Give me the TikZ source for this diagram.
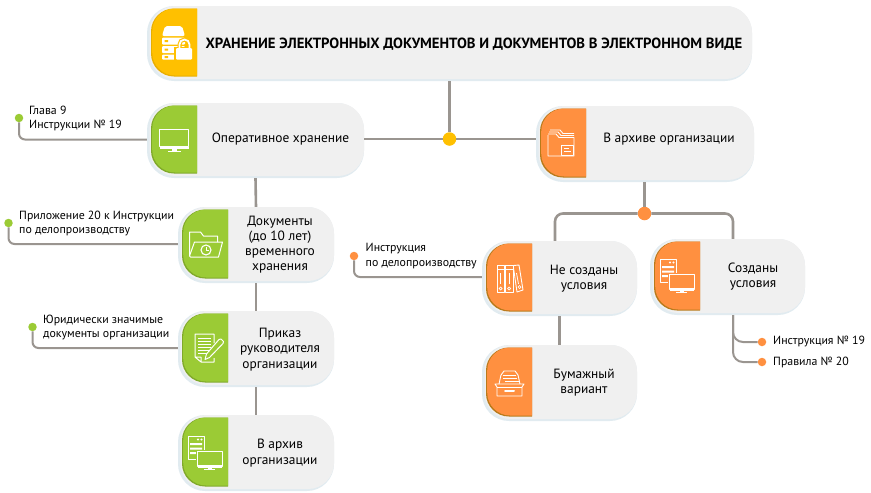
\documentclass[tikz,border=0pt]{standalone}
\usepackage{fontspec}
\setmainfont{PT Sans}
\tikzset{
  x=1pt,y=-1pt,
  cardbase/.style={fill=#1,draw=none,rounded corners=27pt,inner sep=0pt},
  cardtext/.style={font=\fontsize{13.4}{15.2}\selectfont,text=black,align=center,inner sep=0pt},
  toptext/.style={font=\fontsize{14.75}{16}\selectfont\bfseries,text=black,inner sep=0pt},
  notetext/.style={font=\fontsize{11.85}{14.4}\selectfont,text=black,align=left,anchor=west,inner sep=0pt},
  conn/.style={draw=linegray,line width=2.6pt},
  leader/.style={draw=linegray,line width=2pt,rounded corners=6pt},
  dot/.style={circle,fill=#1,draw=none,minimum size=8.5pt,inner sep=0pt},
  junction/.style={circle,fill=#1,draw=none,minimum size=13.5pt,inner sep=0pt},
  icon/.style={draw=white,line width=1pt,fill=none,line join=round},
}
\definecolor{linegray}{HTML}{9A9590}
\definecolor{shade}{HTML}{E1EBF0}
\definecolor{cardgray}{HTML}{F0F0F0}
\definecolor{cyellow}{HTML}{FFC000}
\definecolor{dyellow}{HTML}{E8AE00}
\definecolor{cgreen}{HTML}{9BCB35}
\definecolor{dgreen}{HTML}{7FA92A}
\definecolor{corange}{HTML}{FF9040}
\definecolor{dorange}{HTML}{B87A1A}
% name, x0, y0, x1, y1, color, dark
\newcommand{\card}[7]{%
  \pgfmathsetmacro{\cx}{(#2+#4)/2}\pgfmathsetmacro{\cy}{(#3+#5)/2}%
  \pgfmathsetmacro{\cw}{#4-#2}\pgfmathsetmacro{\ch}{#5-#3}%
  \node[cardbase=shade,minimum width=\cw pt,minimum height=\ch pt] (#1) at (\cx,\cy) {};%
  \pgfmathsetmacro{\gx}{#2+2.5}\pgfmathsetmacro{\gyb}{#5-2}%
  \fill[cardgray,rounded corners=26pt] (\gx,#3) rectangle (#4,\gyb);%
  \pgfmathsetmacro{\pxa}{#2+4}\pgfmathsetmacro{\pxb}{#2+50}%
  \pgfmathsetmacro{\pya}{#3+2.5}\pgfmathsetmacro{\pyb}{#5-4.5}%
  \pgfmathsetmacro{\qxa}{#2+5.2}\pgfmathsetmacro{\qyb}{#5-5.5}%
  \fill[#7] (\pxb,\pya) [rounded corners=23pt] -- (\pxa,\pya) -- (\pxa,\pyb) [sharp corners] -- (\pxb,\pyb) -- cycle;%
  \fill[#6] (\pxb,\pya) [rounded corners=23pt] -- (\qxa,\pya) -- (\qxa,\qyb) [sharp corners] -- (\pxb,\qyb) -- cycle;%
}
\newcommand{\imonitor}[3]{% x,y,scale ; 30x22
  \begin{scope}[shift={(#1,#2)},scale=#3]
    \draw[icon,line width=1.3pt] (0,0) rectangle (29,17);
    \fill[white] (0,17) rectangle (29,19);
    \fill[white] (12,19) rectangle (17,21);
    \fill[white] (8,21) rectangle (21,22.2);
  \end{scope}}
% x, y, panel colour
\newcommand{\iserver}[3]{%
  \begin{scope}[shift={(#1,#2)}]
    \draw[icon,line width=.8pt] (0,0) rectangle (16,23);
    \fill[white] (10,3.5) circle (1.2pt) (13.5,3.5) circle (1.2pt);
    \fill[white] (2,7) rectangle (14,9.2) (2,11.5) rectangle (14,13.7) (2,16) rectangle (14,18.2);
  \end{scope}
  \fill[#3] (#1+8,#2+14) rectangle (#1+35,#2+35);
  \imonitor{#1+9.5}{#2+15.5}{.85}}
\begin{document}
\begin{tikzpicture}
\useasboundingbox (0,0) rectangle (871,493);
% cards
\card{top}{147}{6}{752}{81}{cyellow}{dyellow}
\card{op}{147}{103}{364}{178}{cgreen}{dgreen}
\card{doc}{178}{207}{334}{283}{cgreen}{dgreen}
\card{pri}{178}{311}{334}{387}{cgreen}{dgreen}
\card{arc}{178}{415}{334}{491}{cgreen}{dgreen}
\card{var}{536}{106}{754}{182}{corange}{dorange}
\card{ne}{482}{241}{637}{316}{corange}{dorange}
\card{soz}{650}{239}{805}{315}{corange}{dorange}
\card{bum}{482}{345}{637}{421}{corange}{dorange}
% texts
\node[toptext] (t-top) at (474,44) {ХРАНЕНИЕ ЭЛЕКТРОННЫХ ДОКУМЕНТОВ И ДОКУМЕНТОВ В ЭЛЕКТРОННОМ ВИДЕ};
\node[cardtext] (t-op) at (280.5,139.5) {Оперативное хранение};
\node[cardtext] (t-doc) at (280,244.5) {Документы\\(до 10 лет)\\временного\\хранения};
\node[cardtext] (t-pri) at (280,349.5) {Приказ\\руководителя\\организации};
\node[cardtext] (t-arc) at (280,453) {В архив\\организации};
\node[cardtext] (t-var) at (669,139.5) {В архиве организации};
\node[cardtext] (t-ne) at (584,278.5) {Не созданы\\условия};
\node[cardtext] (t-soz) at (753,276.5) {Созданы\\условия};
\node[cardtext] (t-bum) at (584,383) {Бумажный\\вариант};
% notes
\node[notetext] (n-op) at (29,118.5) {Глава 9\\Инструкции № 19};
\node[notetext] (n-doc) at (19,223.5) {Приложение 20 к Инструкции\\по делопроизводству};
\node[notetext] (n-pri) at (43,327.5) {Юридически значимые\\документы организации};
\node[notetext] (n-ne) at (365.5,256) {Инструкция\\по делопроизводству};
\node[notetext] (n-i19) at (773,341.5) {Инструкция № 19};
\node[notetext] (n-p20) at (773,362) {Правила № 20};
% dots and junctions
\node[dot=cgreen] (d-op) at (19,118) {};
\node[dot=cgreen] (d-doc) at (8.5,223) {};
\node[dot=cgreen] (d-pri) at (32.5,327) {};
\node[dot=corange] (d-ne) at (354,256) {};
\node[dot=corange] (d-i19) at (762,342) {};
\node[dot=corange] (d-p20) at (762,362) {};
\node[junction=cyellow] (j-main) at (449.5,139) {};
\node[junction=corange] (j-var) at (644.5,213.5) {};
% connectors
\draw[conn] (top.south -| j-main) -- (j-main);
\draw[conn] (j-main -| op.east) -- (j-main);
\draw[conn] (j-main) -- (j-main -| var.west);
\draw[conn] (var.south -| j-var) -- (j-var);
\draw[conn] (op.south) -- (doc.north);
\draw[conn] (doc.south) -- (pri.north);
\draw[conn] (pri.south) -- (arc.north);
\draw[conn] (ne.south) -- (bum.north);
\draw[conn,rounded corners=8pt] (j-var.west) -| ([xshift=-4.5pt]ne.north);
\draw[conn,rounded corners=8pt] (j-var.east) -| ([xshift=5.5pt]soz.north);
\draw[leader] (d-op) |- ([yshift=1pt]op.west);
\draw[leader] (d-doc) |- ([yshift=1pt]doc.west);
\draw[leader] (d-pri) |- ([yshift=1pt]pri.west);
\draw[leader] (d-ne) |- ([yshift=1.5pt]ne.west);
\draw[leader,rounded corners=10pt] ([xshift=5.5pt]soz.south) |- (d-i19);
\draw[leader,rounded corners=10pt] ([xshift=5.5pt]soz.south) |- (d-p20);
% icon: storage with lock
\begin{scope}[shift={(162,26)}]
  \fill[white,rounded corners=2pt] (0,10) -- (3,0) -- (20,0) -- (23,10) -- cycle;
  \fill[white,rounded corners=1pt] (0,11.5) rectangle (23,18.5);
  \fill[white,rounded corners=1pt] (0,20) rectangle (23,27);
  \fill[white,rounded corners=1pt] (0,28.5) rectangle (23,33.5);
  \fill[cyellow] (2.5,14) rectangle (6,16) (2.5,22.5) rectangle (6,24.5) (2.5,30) rectangle (6,32);
  \draw[cyellow,line width=4pt] (17.5,22) -- (17.5,18.5) arc[start angle=180,end angle=0,radius=5pt] -- (27.5,22);
  \fill[cyellow] (12,21) rectangle (31,35);
  \draw[white,line width=1.8pt] (17.5,23) -- (17.5,18.5) arc[start angle=180,end angle=0,radius=5pt] -- (27.5,23);
  \fill[white,rounded corners=1pt] (14,22) rectangle (30,33.5);
\end{scope}
% icon: monitor
\imonitor{159.5}{129.5}{1}
% icon: folder with clock
\begin{scope}[shift={(189.5,232)}]
  \draw[icon] (0,24) -- (0,0) -- (11,0) -- (14,4) -- (28,4) -- (28,10);
  \draw[icon] (0,24) -- (5,10) -- (33,10) -- (29,25) -- (1,25) -- cycle;
  \draw[icon,line width=1.1pt] (16.5,18) circle (5pt);
  \draw[icon,line width=1pt] (16.5,15) -- (16.5,18) -- (19,18);
\end{scope}
% icon: document with pen
\begin{scope}[shift={(195,334)}]
  \draw[icon] (6,28) -- (19,28) -- (19,24) (19,9) -- (19,0) -- (0,0) -- (0,23) -- (6,28) -- (6,23) -- (0,23);
  \foreach \yy in {4,7,10,13,16}{\draw[white,line width=.9pt] (3,\yy) -- (16,\yy);}
  \draw[white,line width=.9pt] (3,19) -- (12,19);
  \draw[icon,fill=cgreen] (24,5.5) -- (26,5) -- (28.5,7.5) -- (28,9.5) -- (14.5,23.5) -- (10,25.5) -- (11.5,20) -- cycle;
\end{scope}
% icon: server and monitor
\iserver{188}{436}{cgreen}
% icon: folders
\begin{scope}[shift={(548,129)}]
  \draw[icon,line width=.9pt] (0,6) -- (0,27) -- (26,27) -- (26,8.5) -- (11,8.5) -- (8,5) -- (0,5);
  \draw[icon,line width=.9pt] (1,3) -- (10,3) -- (13,6.5) -- (26,6.5);
  \draw[icon,line width=.9pt] (2,1) -- (12,1) -- (15,4.5) -- (26,4.5);
  \fill[corange] (12.5,15.5) rectangle (26,27);
  \draw[icon,line width=.9pt] (13.5,16.5) rectangle (25,26);
  \draw[white,line width=.8pt] (16,19.5) -- (21,19.5) (16,22.5) -- (23,22.5);
\end{scope}
% icon: binders
\begin{scope}[shift={(497,265)}]
  \draw[icon,line width=.9pt] (0,0) rectangle (7.5,27);
  \draw[icon,line width=.9pt] (8.5,0) rectangle (16,27);
  \draw[icon,line width=.9pt] (16.5,.5) -- (22,0) -- (26,25) -- (20,27) -- (16.5,3);
  \foreach \xx in {3.7,12.2}{
    \draw[white,line width=.9pt] (\xx,8) -- (\xx,19);
    \draw[white,line width=.7pt] (\xx,23.5) circle (1.5pt);
    \draw[white,line width=.7pt] (\xx-3.7,4) -- (\xx+3.8,4);
  }
  \draw[white,line width=.8pt] (19.5,8) -- (21.5,19);
  \draw[white,line width=.7pt] (22.5,22) circle (1.5pt);
\end{scope}
% icon: server and monitor (orange)
\iserver{660}{259}{corange}
% icon: drawer box
\begin{scope}[shift={(495,370)}]
  \draw[icon,line width=.9pt] (4,14) -- (6,5) -- (9,1) -- (20,1) -- (23,5) -- (25,14);
  \draw[white,line width=.8pt] (8,5) -- (21,5) (8,8) -- (22,8) (10,11) -- (24,11);
  \draw[icon,line width=.9pt] (0,14) -- (29,14) -- (27,17) -- (27,26) -- (2,26) -- (2,17) -- cycle;
  \draw[icon,line width=.9pt] (2,17) -- (27,17);
  \draw[white,line width=2pt,line cap=round] (10,21) -- (19,21);
\end{scope}
\end{tikzpicture}
\end{document}
